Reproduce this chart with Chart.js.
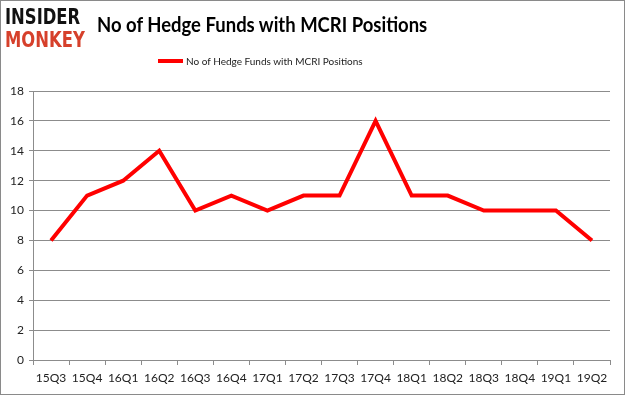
<!DOCTYPE html>
<html>
<head>
<meta charset="utf-8">
<script src="https://cdn.jsdelivr.net/npm/chart.js@4"></script>
<style>
  body { margin: 0; background: #fff; }
  #wrap { position: relative; width: 625px; height: 395px; overflow: hidden; }
  #frame { position: absolute; left: 0; top: 0; width: 625px; height: 395px; box-sizing: border-box; border: 1px solid #8a8a8a; pointer-events: none; }
  #logo { position: absolute; left: 5px; top: 5px; font-family: "DejaVu Sans", sans-serif; font-weight: bold; font-size: 20px; line-height: 21px; transform: scale(0.82, 1.1); transform-origin: 0 0; }
  #logo .a { color: #111; }
  #logo .b { color: #d6402b; }
  #title { position: absolute; left: 97px; top: 11px; font-family: Lato, sans-serif; font-weight: bold; font-size: 21px; color: #000; white-space: nowrap; transform: scaleX(0.88); transform-origin: 0 0; }
  #legend { position: absolute; left: 158px; top: 55px; font-family: Lato, sans-serif; font-size: 10px; color: #222; white-space: nowrap; }
  #legend span.sw { display: inline-block; width: 25px; height: 4px; background: #ff0000; vertical-align: middle; margin-right: 3px; position: relative; top: -1px; }
  canvas { position: absolute; left: 0; top: 0; }
</style>
</head>
<body>
<div id="wrap">
  <canvas id="myChart" width="625" height="395"></canvas>
  <div id="logo"><div class="a">INSIDER</div><div class="b">MONKEY</div></div>
  <div id="title">No of Hedge Funds with MCRI Positions</div>
  <div id="legend"><span class="sw"></span>No of Hedge Funds with MCRI Positions</div>
  <div id="frame"></div>
</div>
<script>
// quarters and hedge fund counts
var quarters = ["15Q3", "15Q4", "16Q1", "16Q2", "16Q3", "16Q4", "17Q1", "17Q2",
                "17Q3", "17Q4", "18Q1", "18Q2", "18Q3", "18Q4", "19Q1", "19Q2"];
var fundCounts = [8, 11, 12, 14, 10, 11, 10, 11, 11, 16, 11, 11, 10, 10, 10, 8];
var seriesName = "No of Hedge Funds with MCRI Positions";

var gridColor = "#8c8c8c";

new Chart("myChart", {
    type: "line",
    data: {
        labels: quarters,
        datasets: [
            {
                label: seriesName,
                data: fundCounts,
                borderColor: "#ff0000",
                backgroundColor: "#ff0000",
                borderWidth: 4,
                pointRadius: 0,
                tension: 0,
                fill: false
            }
        ]
    },
    options: {
        responsive: false,
        animation: false,
        layout: { padding: { top: 91, right: 15, bottom: 0, left: 0 } },
        plugins: { legend: { display: false }, tooltip: { enabled: false } },
        scales: {
            x: {
                offset: true,
                grid: { offset: true, drawOnChartArea: false, color: gridColor, tickLength: 5 },
                border: { color: gridColor },
                ticks: { color: "#222", font: { family: "Lato", size: 12 }, padding: 6, maxRotation: 0, autoSkip: false },
                afterFit: function (scale) { scale.height = 35; }
            },
            y: {
                min: 0,
                max: 18,
                ticks: { stepSize: 2, color: "#222", font: { family: "Lato", size: 12 }, padding: 5 },
                grid: { color: gridColor, tickLength: 4 },
                border: { color: gridColor },
                afterFit: function (scale) { scale.width = 33; }
            }
        }
    }
});
</script>
</body>
</html>
